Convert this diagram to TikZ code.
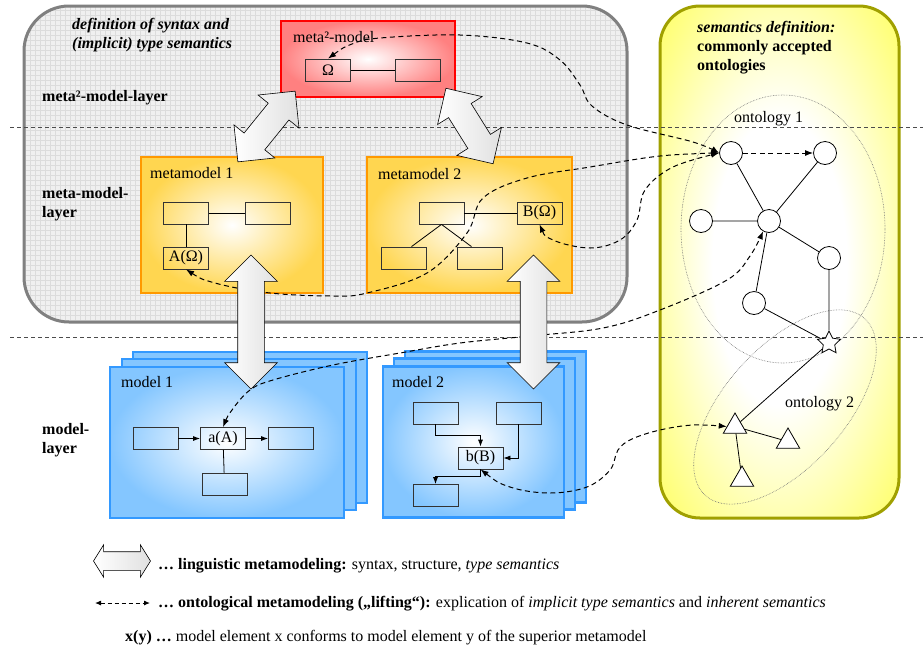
\documentclass[tikz,border=0pt]{standalone}
\usepackage{fontspec}
\setmainfont{Liberation Serif}
\usetikzlibrary{arrows.meta,shapes.arrows,shapes.geometric}

\definecolor{gridgray}{HTML}{DCDCDC}
\definecolor{boxgray}{HTML}{F0F0F0}
\definecolor{framegray}{HTML}{808080}
\definecolor{mmorange}{HTML}{FF9900}
\definecolor{mmgold}{HTML}{FFD650}
\definecolor{topred}{HTML}{FF0000}
\definecolor{toppink}{HTML}{FF8080}
\definecolor{mblue}{HTML}{3399FF}
\definecolor{mlight}{HTML}{84C6FF}
\definecolor{semolive}{HTML}{A0A000}
\definecolor{semyellow}{HTML}{FFFF40}

\pgfdeclareradialshading{semglow}{\pgfpoint{0bp}{0bp}}{color(0bp)=(white); color(14bp)=(white); color(34bp)=(semyellow!75!white); color(50bp)=(semyellow); color(100bp)=(semyellow)}

\tikzset{
    lbl/.style={inner sep=0pt, font=\fontsize{16}{19}\selectfont},
    layerlbl/.style={inner sep=0pt, align=left, font=\fontsize{16}{19}\selectfont\bfseries},
    legend/.style={inner sep=0pt, anchor=base west, font=\fontsize{16}{19}\selectfont},
    elem/.style={draw=black!80, line width=0.8pt, minimum width=45pt, minimum height=22pt, inner sep=0pt, font=\fontsize{16}{19}\selectfont},
    metabox/.style={draw=mmorange, line width=2.5pt, inner color=white, outer color=mmgold, minimum height=136pt},
    topbox/.style={draw=topred, line width=2.5pt, inner color=white, outer color=toppink},
    modelbox/.style={draw=mblue, line width=2.5pt, inner color=white, outer color=mlight, minimum height=151pt},
    modelback/.style={draw=mblue, line width=2.5pt, fill=mlight, minimum height=151pt},
    linkarrow/.style={double arrow, draw, line width=0.6pt, left color=white, right color=black!12, inner xsep=0pt, inner ysep=13pt, double arrow head extend=13pt},
    lift/.style={line width=1pt, dash pattern=on 5pt off 3.5pt, {Latex[length=8pt,width=6pt]}-{Latex[length=8pt,width=6pt]}},
    liftto/.style={line width=1pt, dash pattern=on 5pt off 3.5pt, -{Latex[length=8pt,width=6pt]}},
    conn/.style={line width=0.8pt, -{Latex[length=7pt,width=5pt]}},
    layerline/.style={line width=0.8pt, black!70, dash pattern=on 4pt off 3pt},
    ontoring/.style={black!55, line width=0.6pt, densely dotted},
    onto/.style={circle, draw, line width=0.8pt, fill=white, minimum size=23pt, inner sep=0pt},
    ontotri/.style={regular polygon, regular polygon sides=3, draw, line width=0.8pt, fill=white, minimum size=27pt, inner sep=0pt},
    ontostar/.style={star, star points=5, star point ratio=2, draw, line width=0.8pt, fill=white, minimum size=24pt, inner sep=0pt}
}

\begin{document}
\begin{tikzpicture}[x=1pt, y=-1pt]
    \useasboundingbox (0,0) rectangle (923,649);

    % syntax side
    \fill[boxgray, rounded corners=45pt] (24,6) rectangle (627,322);
    \begin{scope}
        \clip[rounded corners=45pt] (24,6) rectangle (627,322);
        \draw[gridgray, line width=0.3pt, step=5pt] (24,6) grid (627,322);
    \end{scope}
    \draw[framegray, line width=3pt, rounded corners=45pt] (24,6) rectangle (627,322);

    % semantics side
    \draw[semolive, line width=3pt, rounded corners=40pt, shading=semglow] (660,6) rectangle (899,518);

    \draw[layerline] (10,127) -- (923,127);
    \draw[layerline] (10,337) -- (923,337);

    % meta^2-model
    \node[topbox, minimum width=174pt, minimum height=76pt] (meta2) at (368,59) {};
    \node[lbl, anchor=base west] at (293,42) {meta²-model};
    \node[elem] (om) at (328,70) {Ω};
    \node[elem] (om2) at (418,70) {};
    \draw[line width=0.8pt] (om) -- (om2);

    % metamodels
    \node[metabox, minimum width=182pt] (mm1) at (232,225) {};
    \node[lbl, anchor=base west] at (150,178) {metamodel 1};
    \node[elem] (mm1a) at (186,213) {};
    \node[elem] (mm1b) at (268,213) {};
    \node[elem] (AO) at (186,258) {A(Ω)};
    \draw[line width=0.8pt] (mm1a) -- (mm1b);
    \draw[line width=0.8pt] (mm1a) -- (AO);

    \node[metabox, minimum width=205pt] (mm2) at (469.5,225) {};
    \node[lbl, anchor=base west] at (378,179) {metamodel 2};
    \node[elem] (mm2a) at (441.5,213) {};
    \node[elem] (BO) at (539.5,213) {B(Ω)};
    \node[elem] (mm2c) at (403.5,258) {};
    \node[elem] (mm2d) at (479.5,258) {};
    \draw[line width=0.8pt] (mm2a) -- (BO);
    \draw[line width=0.8pt] (mm2a.south) -- ([xshift=8pt]mm2c.north);
    \draw[line width=0.8pt] (mm2a.south) -- ([xshift=-8pt]mm2d.north);

    % models
    \node[modelback, minimum width=234pt] (m1back2) at (250,427.5) {};
    \node[modelback, minimum width=234pt] (m1back1) at (239,434.5) {};
    \node[modelbox, minimum width=234pt] (m1) at (227,442.5) {};
    \node[lbl, anchor=base west] at (121,387) {model 1};
    \node[elem] (m1left) at (155.5,438.5) {};
    \node[elem] (aA) at (223,438.5) {a(A)};
    \node[elem] (m1right) at (291,438.5) {};
    \node[elem] (m1bot) at (224.5,484) {};
    \draw[conn] (m1left) -- (aA);
    \draw[conn] (aA) -- (m1right);
    \draw[line width=0.8pt] (aA) -- (m1bot);

    \node[modelback, minimum width=181pt] (m2back2) at (495.5,427) {};
    \node[modelback, minimum width=181pt] (m2back1) at (484.5,434) {};
    \node[modelbox, minimum width=181pt] (m2) at (473.5,442) {};
    \node[lbl, anchor=base west] at (392,387) {model 2};
    \node[elem] (m2tl) at (435.5,413) {};
    \node[elem] (m2tr) at (518.5,413) {};
    \node[elem] (bB) at (480.5,458) {b(B)};
    \node[elem] (m2bot) at (435.5,495.5) {};
    \draw[conn] (m2tl.south) -- ++(0,11) -| (bB.north);
    \draw[conn] (m2tr.south) |- (bB.east);
    \draw[conn] (bB.south) -- ++(0,7) -| (m2bot.north);

    % ontologies
    \draw[ontoring] (783,229) ellipse [x radius=102, y radius=134];
    \draw[ontoring, rotate around={48:(785,407)}] (785,407) ellipse [x radius=119, y radius=60];
    \node[onto] (c1) at (731,153) {};
    \node[onto] (c2) at (825,153) {};
    \node[onto] (c3) at (701,221) {};
    \node[onto] (c4) at (769,221) {};
    \node[onto] (c5) at (829,258) {};
    \node[onto] (c6) at (754,303) {};
    \node[ontostar] (st) at (829,343) {};
    \node[ontotri] (t1) at (735,426.5) {};
    \node[ontotri] (t2) at (788,441.5) {};
    \node[ontotri] (t3) at (742,479.5) {};
    \draw[line width=0.8pt] (c1) -- (c4) (c2) -- (c4) (c3) -- (c4) (c4) -- (c5) (c4) -- (c6)
        (c5) -- (st) (c6) -- (st) (st) -- (t1) (t1) -- (t2) (t1) -- (t3);
    \node[lbl, anchor=base west] at (734,122) {ontology 1};
    \node[lbl, anchor=base west] at (785,407) {ontology 2};

    % layer texts
    \node[layerlbl, anchor=north west] at (72,18) {\textit{definition of syntax and}\\\textit{(implicit) type semantics}};
    \node[layerlbl, anchor=base west] at (42,101) {meta²-model-layer};
    \node[layerlbl, anchor=north west] at (42,187) {meta-model-\\layer};
    \node[layerlbl, anchor=north west] at (42,423) {model-\\layer};
    \node[layerlbl, anchor=north west] at (697,21) {\textit{semantics definition:}\\commonly accepted\\ontologies};

    % lifting
    \draw[lift] plot[smooth, tension=0.6] coordinates {(om.north) (352,44) (380,38) (460,35) (527,43) (560,60) (580,85) (592,106) (627,125) (693,142) (c1.west)};
    \draw[lift] plot[smooth, tension=0.6] coordinates {(AO.south) (215,283) (270,293) (333,296) (367,293) (427,273) (467,233) (483,198) (527,178) (590,167) (660,156) (c1.west)};
    \draw[lift] plot[smooth, tension=0.6] coordinates {(BO.south) (553,240) (590,248) (620,240) (637,220) (645,190) (673,167) (c1.west)};
    \draw[lift] plot[smooth, tension=0.6] coordinates {(aA.north) (232,410) (250,390) (273,380) (333,365) (400,353) (460,343) (530,336) (603,328) (660,310) (727,280) (750,256) (c4.240)};
    \draw[lift] plot[smooth, tension=0.6] coordinates {(bB.south) (510,487) (550,493) (587,487) (610,470) (618,450) (632,439) (660,430) (693,425) (t1.west)};
    \draw[liftto] (c1) -- (c2);

    % linguistic metamodeling
    \node[linkarrow, minimum height=91pt, rotate=51] (la1) at (266.5,126.5) {};
    \node[linkarrow, minimum height=89pt, rotate=122] (la2) at (469.5,126) {};
    \node[linkarrow, minimum height=134pt, rotate=90] (la3) at (251,322) {};
    \node[linkarrow, minimum height=134pt, rotate=90] (la4) at (533.5,322) {};

    % legend
    \node[linkarrow, minimum height=57pt, inner ysep=9pt, double arrow head extend=7pt, double arrow tip angle=116] (legarrow) at (122,561) {};
    \node[legend] (leg1) at (158,569) {\textbf{… linguistic metamodeling:} syntax, structure, \textit{type semantics}};
    \coordinate (lega) at (95,603);
    \coordinate (legb) at (150,603);
    \draw[lift, {Latex[length=6pt,width=5pt]}-{Latex[length=6pt,width=5pt]}, dash pattern=on 4pt off 3pt] (lega) -- (legb);
    \node[legend] (leg2) at (158,607) {\textbf{… ontological metamodeling („lifting“):} explication of \textit{implicit type semantics} and \textit{inherent semantics}};
    \node[legend] (leg3) at (125,641) {\textbf{x(y) …} model element x conforms to model element y of the superior metamodel};
\end{tikzpicture}
\end{document}
